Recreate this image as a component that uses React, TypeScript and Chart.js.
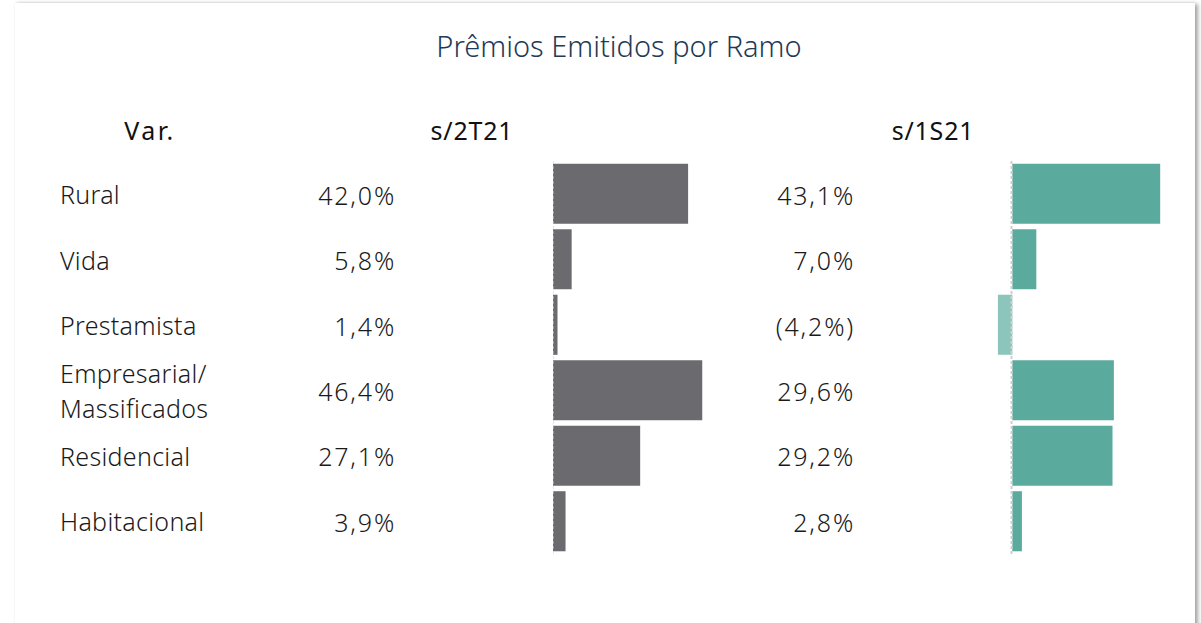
import React, { useEffect, useRef } from "react";
import { Chart, registerables } from "chart.js";

Chart.register(...registerables);

const title = "Prêmios Emitidos por Ramo";
const headerVar = "Var.";
const header2T21 = "s/2T21";
const header1S21 = "s/1S21";
const categories: (string | string[])[] = [
  "Rural",
  "Vida",
  "Prestamista",
  ["Empresarial/", "Massificados"],
  "Residencial",
  "Habitacional",
];
const var2T21 = [42.0, 5.8, 1.4, 46.4, 27.1, 3.9];
const var1S21 = [43.1, 7.0, -4.2, 29.6, 29.2, 2.8];

const range2T21 = { min: 0, max: 60 };
const range1S21 = { min: -10, max: 48 };

const GRAY = "#6b6a6f";
const TEAL = "#5aaa9e";
const TEAL_NEG = "#8bc5bb";
const FONT = "'Noto Sans', 'Open Sans', sans-serif";

const fmt = (v: number) => {
  const s = Math.abs(v).toFixed(1).replace(".", ",") + "%";
  return v < 0 ? "(" + s + ")" : s;
};

const ROW_TOP = 161;
const ROW_H = 65.4;

const zeroLine = {
  id: "zeroLine",
  afterDatasetsDraw(chart: any) {
    const x = chart.scales.x;
    const px = Math.round(x.getPixelForValue(0)) - 0.5;
    const ctx = chart.ctx;
    ctx.save();
    ctx.strokeStyle = "#cfcfcf";
    ctx.lineWidth = 2;
    ctx.setLineDash([3, 2]);
    ctx.beginPath();
    ctx.moveTo(px, chart.chartArea.top);
    ctx.lineTo(px, chart.chartArea.bottom);
    ctx.stroke();
    ctx.restore();
  },
};

function BarChart(props: {
  values: number[];
  colors: string[];
  range: { min: number; max: number };
  width: number;
  height: number;
}) {
  const ref = useRef<HTMLCanvasElement>(null);
  useEffect(() => {
    if (!ref.current) return;
    const chart = new Chart(ref.current, {
      type: "bar",
      data: {
        labels: categories.map((c) => (Array.isArray(c) ? c.join(" ") : c)),
        datasets: [
          {
            data: props.values,
            backgroundColor: props.colors,
            barPercentage: 0.917,
            categoryPercentage: 1,
            borderWidth: 0,
          },
        ],
      },
      options: {
        indexAxis: "y",
        responsive: false,
        animation: false,
        events: [],
        layout: { padding: 0 },
        plugins: { legend: { display: false }, tooltip: { enabled: false } },
        scales: {
          x: { display: false, min: props.range.min, max: props.range.max },
          y: { display: false },
        },
      },
      plugins: [zeroLine],
    });
    return () => chart.destroy();
  }, []);
  return <canvas ref={ref} width={props.width} height={props.height} />;
}

export default function App() {
  const textBase: React.CSSProperties = {
    position: "absolute",
    fontFamily: FONT,
    fontSize: 25,
    fontWeight: 300,
    color: "#1a1a1a",
    lineHeight: "35px",
    whiteSpace: "nowrap",
  };
  const header: React.CSSProperties = {
    ...textBase,
    top: 113,
    width: 140,
    textAlign: "center",
    fontSize: 25,
    fontWeight: 400,
    color: "#111",
  };
  return (
    <div
      style={{
        position: "absolute",
        left: 0,
        top: 0,
        width: 1201,
        height: 623,
        overflow: "hidden",
        background: "#ffffff",
      }}
    >
      <div
        style={{
          position: "absolute",
          left: 15,
          top: 3,
          width: 1180,
          height: 640,
          background: "#ffffff",
          boxShadow: "3px 1px 4px rgba(0,0,0,0.35), 0 -1px 2px rgba(0,0,0,0.06)",
        }}
      />
      <div
        style={{
          ...textBase,
          left: 0,
          width: 1238,
          top: 27,
          textAlign: "center",
          fontSize: 29,
          lineHeight: "38px",
          color: "#1f3a56",
        }}
      >
        {title}
      </div>
      <div style={{ ...header, left: 80, letterSpacing: 2.5 }}>{headerVar}</div>
      <div style={{ ...header, left: 402, letterSpacing: 0.8 }}>{header2T21}</div>
      <div style={{ ...header, left: 863, letterSpacing: 0.8 }}>{header1S21}</div>
      {categories.map((c, i) => {
        const center = ROW_TOP + ROW_H * (i + 0.5);
        const lines = Array.isArray(c) ? c : [c];
        return (
          <React.Fragment key={i}>
            <div
              style={{
                ...textBase,
                left: 60,
                letterSpacing: 0.3,
                top: center - (lines.length * 35) / 2 + 1,
              }}
            >
              {lines.map((l, j) => (
                <div key={j}>{l}</div>
              ))}
            </div>
            <div
              style={{
                ...textBase,
                left: 240,
                width: 156,
                textAlign: "right",
                letterSpacing: 1.8,
                top: center - 16,
              }}
            >
              {fmt(var2T21[i])}
            </div>
            <div
              style={{
                ...textBase,
                left: 700,
                width: 155,
                textAlign: "right",
                letterSpacing: 1.8,
                top: center - 16,
              }}
            >
              {fmt(var1S21[i])}
            </div>
          </React.Fragment>
        );
      })}
      <div style={{ position: "absolute", left: 553, top: ROW_TOP, width: 193, height: 393 }}>
        <BarChart
          values={var2T21}
          colors={var2T21.map(() => GRAY)}
          range={range2T21}
          width={193}
          height={393}
        />
      </div>
      <div style={{ position: "absolute", left: 978, top: ROW_TOP, width: 199, height: 393 }}>
        <BarChart
          values={var1S21}
          colors={var1S21.map((v) => (v < 0 ? TEAL_NEG : TEAL))}
          range={range1S21}
          width={199}
          height={393}
        />
      </div>
    </div>
  );
}
